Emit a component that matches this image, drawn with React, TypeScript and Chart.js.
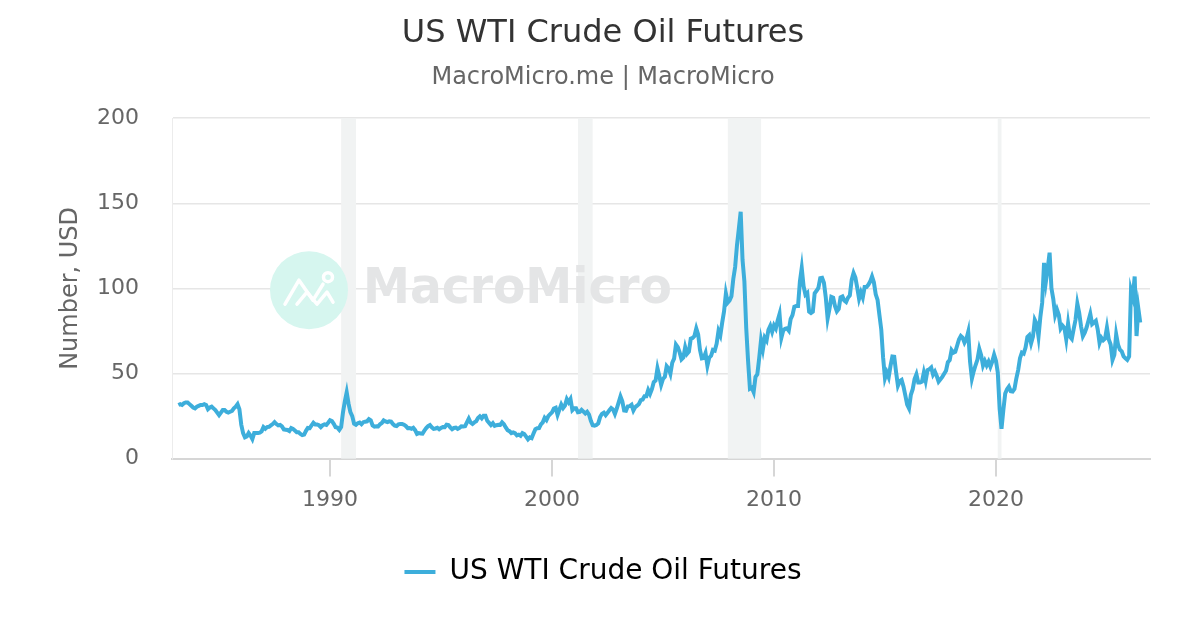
import React, { useEffect, useRef } from "react";
import { Chart, registerables } from "chart.js";

Chart.register(...registerables);

const TITLE = "US WTI Crude Oil Futures";
const SUBTITLE = "MacroMicro.me | MacroMicro";
const SERIES_NAME = "US WTI Crude Oil Futures";
const Y_TITLE = "Number, USD";
const WATERMARK = "MacroMicro";
const X_TICKS = [1990, 2000, 2010, 2020];
const Y_MIN = 0;
const Y_MAX = 200;
const Y_STEP = 50;
const X_MIN = 1982.88;
const X_MAX = 2026.94;

// monthly values, first value = March 1983
const START_YEAR = 1983;
const START_MONTH = 2;

const wti1980s = [
  31.5, 32, 31.5, 32.5, 33, 33, 32, 31, 30, 29.5,
  30.5, 31, 31.5, 31.5, 32, 31.5, 29, 30, 30.5, 29.5, 28.5, 27,
  25.5, 27, 28.5, 28.5, 27.5, 27, 27.5, 28, 29.5, 30.5, 32, 29,
  20, 15, 12.5, 13, 15, 13.5, 11.5, 15, 15, 15, 15.3, 16,
  18.5, 17.5, 18.5, 18.7, 19.5, 20.3, 21.4, 20.3, 19.5, 19.8, 18.9, 17.2,
  17, 16.8, 16.2, 17.9, 17.4, 16.5, 15.5, 15.5, 14.5, 13.8, 14.1, 16.3,
  18, 17.9, 19.5, 21, 20, 20, 19.6, 18.5, 19.6, 20.1, 19.8, 21.1,
];

const wti1990s = [
  22.6, 22.1, 20.4, 18.4, 18.2, 16.9, 18.6, 27.2, 33.7, 39, 32.3, 27.3,
  25, 20.5, 19.9, 20.8, 21.2, 20.2, 21.4, 21.7, 21.9, 23.2, 22.5, 19.5,
  18.8, 19, 18.9, 20.2, 20.9, 22.4, 21.8, 21.4, 21.9, 21.7, 20.3, 19.4,
  19.1, 20.1, 20.3, 20.3, 19.9, 19.1, 17.9, 18, 17.5, 18.1, 16.7, 14.5,
  15, 14.8, 14.7, 16.4, 17.9, 19.1, 19.7, 18.4, 17.5, 17.7, 18.1, 17.2,
  18, 18.6, 18.5, 19.9, 19.7, 18.4, 17.3, 18, 18.2, 17.4, 18, 19,
  18.9, 19.1, 21.3, 23.5, 21.2, 20.4, 21.3, 21.9, 23.9, 24.9, 23.7, 25.2,
  25.2, 22.2, 21, 19.7, 20.8, 19.2, 19.6, 19.9, 19.8, 21.3, 20.2, 18.3,
  16.7, 16.1, 15, 15.4, 14.9, 13.7, 14.1, 13.4, 15, 14.4, 12.9, 11.3,
  12.5, 12, 14.7, 17.3, 17.8, 17.9, 20.1, 21.3, 23.9, 22.6, 25, 26.1,
];

const wti2000s = [
  27.2, 29.4, 29.9, 25.7, 28.8, 31.8, 29.7, 31.2, 35, 33.1, 35, 28.5,
  29.6, 29.6, 27.2, 27.4, 28.6, 27.6, 26.5, 27.5, 25.9, 22.2, 19.6, 19.4,
  19.7, 20.7, 24.4, 26.3, 27, 25.5, 26.9, 28.4, 29.7, 28.9, 26.3, 29.4,
  32.9, 36.5, 33.6, 28.3, 28.1, 30.7, 30.8, 31.6, 28.3, 30.3, 31.1, 32.1,
  34.3, 34.7, 36.7, 36.7, 40.3, 38, 40.8, 44.9, 45.9, 53.1, 48.5, 43.3,
  46.8, 48, 54.3, 53, 49.8, 56.3, 58.7, 67, 65.5, 62.4, 58.3, 59.4,
  65.5, 61.6, 62.9, 70.5, 70.9, 72, 76.5, 73, 63.8, 58.9, 59.1, 62,
  54.5, 59.3, 60.4, 63.9, 63.5, 67.5, 75, 72.4, 79.9, 86.5, 97, 91.7,
  93, 95.4, 105.5, 112.6, 125.4, 135, 145, 116.7, 104.1, 76.6, 57.3, 41.1,
  41.7, 39.1, 48, 49.6, 59, 69.6, 64.2, 71.1, 69.4, 75.7, 78, 74.5,
];

const wti2010s = [
  78.3, 76.4, 81.2, 85, 71, 75.3, 76.3, 76.6, 75.2, 81.9, 84.3, 89.2,
  89.6, 89.6, 104, 112, 101.3, 96.3, 97.3, 86.3, 85.5, 86.3, 97.2, 98.6,
  100.3, 106, 106.2, 103.3, 94.7, 82.3, 87.9, 95, 94.5, 89.5, 86.5, 87.9,
  94.8, 95.3, 92.9, 92, 94.5, 95.8, 105, 109, 106.3, 100.5, 93.9, 97.6,
  94.6, 100.8, 100.8, 102.1, 104, 107, 103.6, 96.5, 93.2, 84.4, 75.8, 59.3,
  47.2, 50.6, 47.8, 54.5, 60, 59.8, 50.9, 42.9, 45.5, 46.2, 42.4, 37.2,
  31.7, 29.5, 37.5, 40.8, 46.7, 49.5, 44.7, 44.7, 45.2, 50.5, 45.7, 52,
  52.5, 53.5, 49.3, 51.1, 48.5, 45.2, 46.6, 48, 49.8, 51.6, 56.6, 57.9,
  63.7, 62.2, 62.7, 66.3, 70, 72, 71, 68.1, 70.2, 74.5, 57, 47,
  51.4, 55, 58.2, 64.5, 60.8, 54.7, 57.4, 54.8, 57, 54, 57, 61,
];

const wti2020s = [
  57.5, 50.5, 29.2, 17.5, 28.5, 38.3, 40.7, 42.3, 39.6, 39.4, 40.9, 47,
  52, 59, 62.3, 61.7, 65.2, 71.4, 72.5, 67.7, 71.6, 81.5, 79.2, 71.7,
  83.2, 91.6, 115, 104, 112, 121, 100, 93.7, 84.3, 87.6, 84.4, 76.4,
  78.1, 76.8, 70, 79.4, 71.6, 70.3, 76, 81.4, 91, 85.6, 77.7, 71.9,
  74, 77, 81, 85, 79, 80, 81, 76, 68, 71, 69.5, 70.5,
  77, 70, 67, 58, 61, 73, 67, 64, 63, 60, 59, 58,
  60, 99, 95, 107, 72, 88, 80,
];

// US recession periods (decimal years)
const recessionStarts = [1990.5, 2001.17, 2007.92, 2020.08];
const recessionEnds = [1991.17, 2001.83, 2009.42, 2020.25];

const LINE_COLOR = "#3daedb";

const allValues = [...wti1980s, ...wti1990s, ...wti2000s, ...wti2010s, ...wti2020s];
const points = allValues.map((v, i) => ({ x: START_YEAR + (START_MONTH + i) / 12, y: v }));

const FONT = "'DejaVu Sans', sans-serif";

const backgroundPlugin = {
  id: "mmBackground",
  beforeDatasetsDraw(chart: any) {
    const { ctx, chartArea, scales } = chart;
    const xs = scales.x;
    ctx.save();
    // recession bands
    ctx.fillStyle = "#f1f3f3";
    for (let i = 0; i < recessionStarts.length; i++) {
      const a = xs.getPixelForValue(recessionStarts[i]);
      const b = xs.getPixelForValue(recessionEnds[i]);
      ctx.fillRect(a, chartArea.top, b - a, chartArea.bottom - chartArea.top);
    }
    // watermark
    const cx = chartArea.left + 137;
    const cy = chartArea.top + 172;
    ctx.fillStyle = "#d6f6ef";
    ctx.beginPath();
    ctx.arc(cx, cy, 39, 0, Math.PI * 2);
    ctx.fill();
    ctx.strokeStyle = "#ffffff";
    ctx.lineWidth = 3.5;
    ctx.lineJoin = "round";
    ctx.lineCap = "round";
    ctx.beginPath();
    ctx.moveTo(cx - 24, cy + 14);
    ctx.lineTo(cx - 10, cy - 10);
    ctx.lineTo(cx + 4, cy + 10);
    ctx.lineTo(cx + 14, cy - 6);
    ctx.stroke();
    ctx.beginPath();
    ctx.moveTo(cx - 12, cy + 14);
    ctx.lineTo(cx - 2, cy + 2);
    ctx.lineTo(cx + 8, cy + 14);
    ctx.lineTo(cx + 18, cy + 2);
    ctx.lineTo(cx + 24, cy + 12);
    ctx.stroke();
    ctx.beginPath();
    ctx.arc(cx + 19, cy - 13, 4.5, 0, Math.PI * 2);
    ctx.stroke();
    ctx.fillStyle = "#e4e5e6";
    ctx.font = `bold 50px ${FONT}`;
    ctx.textBaseline = "middle";
    ctx.textAlign = "left";
    const w = ctx.measureText(WATERMARK).width;
    const tx = chartArea.left + 191;
    ctx.translate(tx, cy);
    ctx.scale(309 / w, 1);
    ctx.fillText(WATERMARK, 0, 0);
    ctx.restore();
  },
};

function WtiChart() {
  const ref = useRef<HTMLCanvasElement | null>(null);
  useEffect(() => {
    document.body.style.margin = "0";
    if (!ref.current) return;
    const chart = new Chart(ref.current, {
      type: "line",
      data: {
        datasets: [
          {
            label: SERIES_NAME,
            data: points,
            borderColor: LINE_COLOR,
            backgroundColor: LINE_COLOR,
            borderWidth: 4,
            pointRadius: 0,
            tension: 0,
            fill: false,
          },
        ],
      },
      options: {
        animation: false,
        responsive: true,
        maintainAspectRatio: false,
        layout: { padding: { left: 56, right: 50, top: 0, bottom: 34 } },
        plugins: {
          title: {
            display: true,
            text: TITLE,
            color: "#333333",
            font: { family: FONT, size: 32, weight: "normal" },
            padding: { top: 14, bottom: 8 },
          },
          subtitle: {
            display: true,
            text: SUBTITLE,
            color: "#666666",
            font: { family: FONT, size: 24, weight: "normal" },
            padding: { top: 3, bottom: 26 },
          },
          legend: {
            display: true,
            position: "bottom",
            labels: {
              color: "#111111",
              font: { family: FONT, size: 28 },
              boxWidth: 31,
              boxHeight: 4,
              padding: 10,
              generateLabels: () => [
                {
                  text: SERIES_NAME,
                  fillStyle: LINE_COLOR,
                  strokeStyle: LINE_COLOR,
                  lineWidth: 0,
                  hidden: false,
                  datasetIndex: 0,
                } as any,
              ],
            },
          },
          tooltip: { enabled: false },
        },
        scales: {
          x: {
            type: "linear",
            min: X_MIN,
            max: X_MAX,
            afterBuildTicks: (scale: any) => {
              scale.ticks = X_TICKS.map((v) => ({ value: v }));
            },
            afterFit: (scale: any) => {
              scale.height = scale.height + 25;
            },
            ticks: {
              color: "#666666",
              font: { family: FONT, size: 22 },
              padding: 10,
              maxRotation: 0,
              autoSkip: false,
              callback: (v: any) => String(v),
            },
            grid: {
              drawOnChartArea: false,
              drawTicks: true,
              tickLength: 18,
              color: "#d6d6d6",
              lineWidth: 2,
            },
            border: { display: true, color: "#d6d6d6", width: 2 },
          },
          y: {
            type: "linear",
            min: Y_MIN,
            max: Y_MAX,
            afterFit: (scale: any) => {
              scale.width = 116;
            },
            ticks: {
              stepSize: Y_STEP,
              color: "#666666",
              font: { family: FONT, size: 22 },
              padding: 33,
            },
            grid: {
              drawTicks: false,
              color: "#e6e6e6",
              lineWidth: 1.5,
            },
            border: { display: true, color: "#ececec", width: 1 },
            title: {
              display: true,
              text: Y_TITLE,
              color: "#666666",
              font: { family: FONT, size: 24 },
              padding: { top: 0, bottom: 12 },
            },
          },
        },
      },
      plugins: [backgroundPlugin],
    } as any);
    return () => chart.destroy();
  }, []);
  return (
    <div style={{ width: 1200, height: 630, position: "relative", background: "#ffffff" }}>
      <canvas ref={ref} />
    </div>
  );
}

export default function App() {
  return <WtiChart />;
}
